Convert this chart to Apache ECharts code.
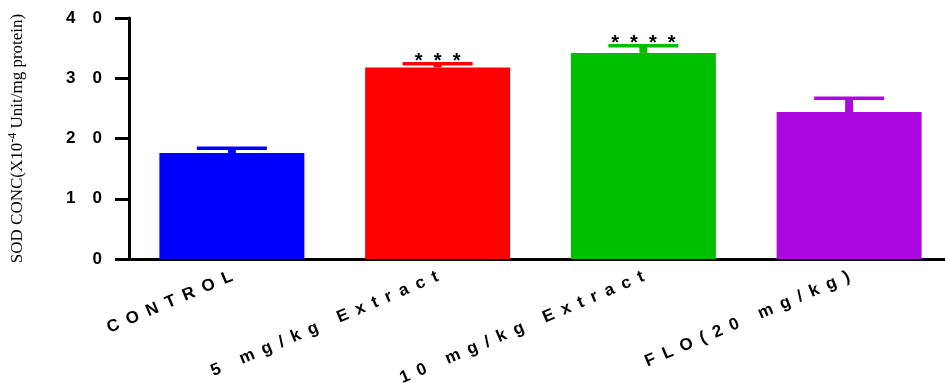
<!DOCTYPE html>
<html>
<head>
<meta charset="utf-8">
<script src="https://cdn.jsdelivr.net/npm/echarts@6/dist/echarts.min.js"></script>
<style>
  html, body { margin: 0; padding: 0; background: #fff; }
  #grafico { width: 945px; height: 383px; }
</style>
</head>
<body>
<div id="grafico"></div>
<script>
// datos
const categorias = ['CONTROL', '5 mg/kg Extract', '10 mg/kg Extract', 'FLO(20 mg/kg)']
const medias = [17.6, 31.8, 34.2, 24.4]
const errores = [0.8, 0.6, 1.2, 2.3]
const estrellas = ['', '***', '****', '']
const ticksY = [0, 10, 20, 30, 40]

const colores = ['#0000ff', '#ff0000', '#00bf00', '#ae08e0']

const espaciar = txt => String(txt).split('').join('\u2002')

const chart = echarts.init(document.getElementById('grafico'))

let option = {
  animation: false,
  grid: {
    left: 129,
    right: -7,
    top: 18,
    bottom: 124,
    outerBoundsMode: 'none'
  },
  xAxis: {
    type: 'category',
    data: categorias,
    axisLine: { lineStyle: { color: '#000', width: 3 } },
    axisTick: {
      alignWithLabel: true,
      length: 8,
      lineStyle: { color: '#000', width: 3 }
    },
    axisLabel: {
      interval: 0,
      rotate: 23,
      margin: 17,
      color: '#000',
      fontFamily: 'Liberation Sans',
      fontWeight: 'bold',
      fontSize: 17,
      formatter: espaciar
    }
  },
  yAxis: {
    type: 'value',
    min: ticksY[0],
    max: ticksY[ticksY.length - 1],
    interval: 10,
    splitLine: { show: false },
    axisLine: { show: true, lineStyle: { color: '#000', width: 3 } },
    axisTick: { show: true, length: 14, lineStyle: { color: '#000', width: 3 } },
    axisLabel: {
      margin: 27,
      color: '#000',
      fontFamily: 'Liberation Sans',
      fontWeight: 'bold',
      fontSize: 17,
      formatter: v => v.toString().split('').join('\u2003')
    },
    name: 'SOD CONC(X10{sup|-4} Unit/mg protein)',
    nameLocation: 'middle',
    nameGap: 100,
    nameTextStyle: {
      color: '#000',
      fontFamily: 'Liberation Serif',
      fontSize: 17,
      rich: {
        sup: {
          fontFamily: 'Liberation Serif',
          fontSize: 12,
          verticalAlign: 'top',
          padding: [0, 0, 10, 0]
        }
      }
    }
  },
  series: [
    {
      type: 'bar',
      barWidth: 145,
      data: medias.map((m, i) => ({ value: m, itemStyle: { color: colores[i] } }))
    },
    {
      type: 'custom',
      data: medias.map((m, i) => [i, m, m + errores[i]]),
      renderItem: (params, api) => {
        const i = api.value(0)
        const base = api.coord([i, api.value(1)])
        const tope = api.coord([i, api.value(2)])
        const color = colores[i]
        const children = [
          { type: 'rect', shape: { x: base[0] - 4, y: tope[1], width: 8, height: base[1] - tope[1] }, style: { fill: color } },
          { type: 'rect', shape: { x: base[0] - 35, y: tope[1] - 1.75, width: 70, height: 3.5 }, style: { fill: color } }
        ]
        if (estrellas[i]) {
          children.push({
            type: 'text',
            style: {
              x: base[0],
              y: tope[1] - 12,
              text: estrellas[i].split('').join('  '),
              fill: '#000',
              font: 'bold 20px "Liberation Sans"',
              align: 'center',
              verticalAlign: 'top'
            }
          })
        }
        return { type: 'group', children: children }
      },
      z: 3
    }
  ]
}

chart.setOption(option)
</script>
</body>
</html>
